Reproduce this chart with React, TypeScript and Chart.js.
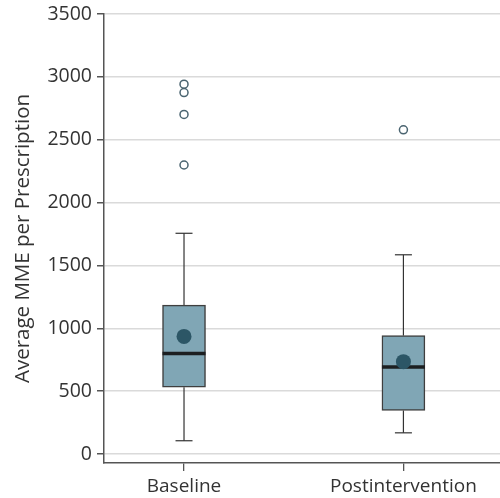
import React, { useEffect, useRef } from "react";
import { Chart, registerables } from "chart.js";

Chart.register(...registerables);

const CATEGORIES = ["Baseline", "Postintervention"];
const X_POS = [1, 2];
const Q1 = [532, 347];
const Q3 = [1185, 942];
const MEDIAN = [799, 693];
const MEAN = [936, 735];
const WHISKER_LOW = [106, 169];
const WHISKER_HIGH = [1756, 1585];
const OUTLIERS_BASELINE = [2942, 2875, 2701, 2299];
const OUTLIERS_POST = [2579];
const Y_TICKS = [0, 500, 1000, 1500, 2000, 2500, 3000, 3500];

const FONT = "'Open Sans', sans-serif";
const TEXT_COLOR = "#333333";
const AXIS_COLOR = "#555555";

export default function App() {
  const ref = useRef<HTMLCanvasElement | null>(null);

  useEffect(() => {
    const canvas = ref.current;
    if (!canvas) return;

    const whiskerSets = X_POS.flatMap((x, i) => [
      {
        type: "line" as const,
        data: [
          { x, y: Q3[i] },
          { x, y: WHISKER_HIGH[i] },
        ],
        borderColor: "#333333",
        borderWidth: 1.2,
        pointRadius: 0,
        order: 5,
      },
      {
        type: "line" as const,
        data: [
          { x, y: Q1[i] },
          { x, y: WHISKER_LOW[i] },
        ],
        borderColor: "#333333",
        borderWidth: 1.2,
        pointRadius: 0,
        order: 5,
      },
    ]);

    const chart = new Chart(canvas, {
      type: "scatter",
      data: {
        datasets: [
          ...whiskerSets,
          {
            type: "scatter" as const,
            data: X_POS.flatMap((x, i) => [
              { x, y: WHISKER_HIGH[i] },
              { x, y: WHISKER_LOW[i] },
            ]),
            pointStyle: "line",
            pointRadius: 8.5,
            borderColor: "#333333",
            borderWidth: 1.2,
            order: 5,
          },
          {
            type: "bar" as const,
            data: X_POS.map((x, i) => ({ x, y: [Q1[i], Q3[i]] })) as any,
            backgroundColor: "#80a6b5",
            borderColor: "#3f3f3f",
            borderWidth: 1.5,
            borderSkipped: false,
            barThickness: 43,
            grouped: false,
            order: 4,
          },
          {
            type: "scatter" as const,
            data: X_POS.map((x, i) => ({ x, y: MEDIAN[i] })),
            pointStyle: "line",
            pointRadius: 21.5,
            borderColor: "#1c1f21",
            borderWidth: 3.5,
            order: 3,
          },
          {
            type: "scatter" as const,
            data: X_POS.map((x, i) => ({ x, y: MEAN[i] })),
            pointStyle: "circle",
            pointRadius: 7.5,
            backgroundColor: "#2c5666",
            borderColor: "#2c5666",
            borderWidth: 0,
            order: 2,
          },
          {
            type: "scatter" as const,
            data: [
              ...OUTLIERS_BASELINE.map((y) => ({ x: X_POS[0], y })),
              ...OUTLIERS_POST.map((y) => ({ x: X_POS[1], y })),
            ],
            pointStyle: "circle",
            pointRadius: 4,
            backgroundColor: "#ffffff",
            borderColor: "#4a6470",
            borderWidth: 1.5,
            order: 1,
          },
        ],
      },
      options: {
        animation: false,
        responsive: false,
        events: [],
        layout: { padding: { top: 0, right: 0, bottom: 0, left: 0 } },
        plugins: {
          legend: { display: false },
          tooltip: { enabled: false },
        },
        scales: {
          x: {
            type: "linear",
            min: 0.6353,
            max: 2.463,
            offset: false,
            afterBuildTicks: (axis: any) => {
              axis.ticks = X_POS.map((v) => ({ value: v }));
            },
            afterFit: (axis: any) => {
              axis.height = 35;
            },
            ticks: {
              autoSkip: false,
              maxRotation: 0,
              padding: 4,
              color: TEXT_COLOR,
              font: { family: FONT, size: 19 },
              callback: (v: any) => {
                const idx = X_POS.indexOf(Number(v));
                return idx >= 0 ? CATEGORIES[idx] : "";
              },
            },
            grid: {
              offset: false,
              drawOnChartArea: false,
              drawTicks: true,
              tickLength: 8,
              tickColor: AXIS_COLOR,
              lineWidth: 1.3,
            },
            border: { display: true, color: AXIS_COLOR, width: 1.5 },
          },
          y: {
            type: "linear",
            min: -71,
            max: 3500,
            afterBuildTicks: (axis: any) => {
              axis.ticks = Y_TICKS.map((v) => ({ value: v }));
            },
            afterFit: (axis: any) => {
              axis.width = 104;
            },
            ticks: {
              padding: 5,
              color: TEXT_COLOR,
              font: { family: FONT, size: 19.5 },
              callback: (v: any) => String(v),
            },
            grid: {
              color: "#dadada",
              lineWidth: 1.5,
              tickColor: AXIS_COLOR,
              tickLength: 7,
              drawTicks: true,
            },
            border: { display: true, color: AXIS_COLOR, width: 1.5 },
            title: {
              display: true,
              text: "Average MME per Prescription",
              color: TEXT_COLOR,
              font: { family: FONT, size: 20.5 },
              padding: { top: 10.5, bottom: 0 },
            },
          },
        },
      },
    } as any);

    return () => chart.destroy();
  }, []);

  return (
    <div
      style={{
        position: "fixed",
        left: 0,
        top: 0,
        width: 500,
        height: 498,
        overflow: "hidden",
        background: "#ffffff",
      }}
    >
      <canvas
        ref={ref}
        width={530}
        height={509}
        style={{ display: "block", marginTop: -11 }}
      />
    </div>
  );
}
